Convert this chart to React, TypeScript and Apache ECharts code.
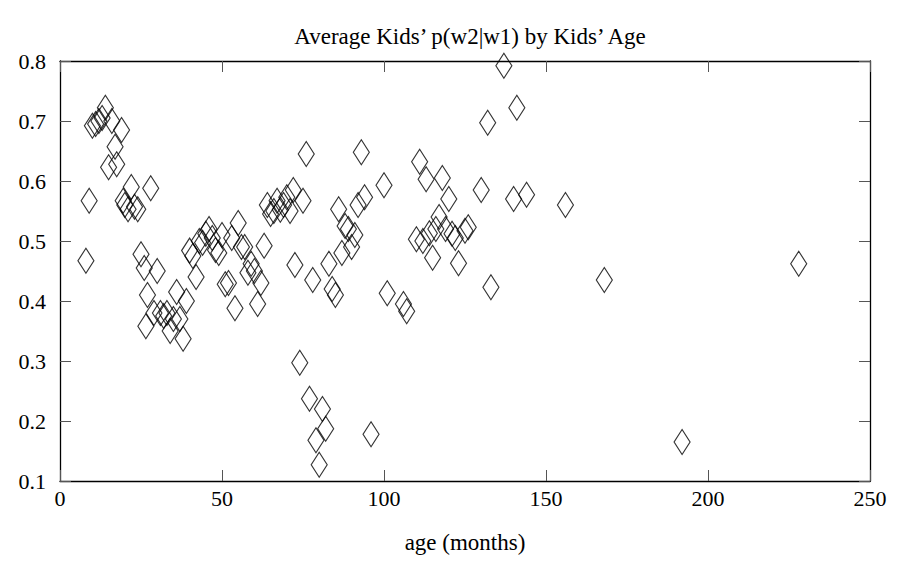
import React, { useEffect, useRef } from "react";
import * as echarts from "echarts";

const ages: number[] = [
  8, 9, 10, 11, 12, 13, 14, 15, 16, 17, 17.5, 19, 19.5, 20, 21, 22, 23, 24, 25, 26,
  26.5, 27, 28, 29, 30, 31, 32, 33, 34, 35, 36, 37, 38, 39, 40, 41, 42, 43, 44, 45,
  46, 47, 48, 49, 50, 51, 52, 53, 54, 55, 56, 57, 58, 59, 60, 61, 62, 63, 64, 65,
  66, 67, 68, 69, 70, 71, 72, 72.5, 74, 75, 76, 77, 78, 79, 80, 81, 82, 83, 84, 85,
  86, 87, 88, 89, 90, 91, 92, 93, 94, 96, 100, 101, 106, 107, 110, 111, 112, 113, 114, 115,
  116, 117, 118, 119, 120, 121, 122, 123, 125, 126, 130, 132, 133, 137, 140, 141, 144, 156, 168, 192,
  228,
];
const probs: number[] = [
  0.467, 0.567, 0.692, 0.695, 0.7, 0.705, 0.722, 0.623, 0.7, 0.657, 0.628, 0.685, 0.567, 0.56, 0.553, 0.59, 0.557, 0.553, 0.478, 0.455,
  0.358, 0.41, 0.588, 0.38, 0.45, 0.38, 0.375, 0.38, 0.35, 0.37, 0.415, 0.37, 0.337, 0.4, 0.484, 0.475, 0.44, 0.5, 0.497, 0.512,
  0.52, 0.505, 0.485, 0.48, 0.51, 0.428, 0.43, 0.505, 0.388, 0.53, 0.49, 0.49, 0.447, 0.462, 0.45, 0.395, 0.43, 0.492, 0.56, 0.545,
  0.55, 0.567, 0.552, 0.56, 0.573, 0.55, 0.585, 0.46, 0.297, 0.567, 0.645, 0.237, 0.435, 0.168, 0.127, 0.22, 0.187, 0.462, 0.42, 0.41,
  0.553, 0.48, 0.525, 0.52, 0.49, 0.51, 0.56, 0.648, 0.573, 0.178, 0.593, 0.413, 0.395, 0.383, 0.503, 0.632, 0.5, 0.603, 0.513, 0.472,
  0.52, 0.54, 0.605, 0.52, 0.57, 0.512, 0.505, 0.463, 0.517, 0.523, 0.585, 0.697, 0.423, 0.792, 0.57, 0.722, 0.577, 0.56, 0.435, 0.165,
  0.462,
];

const xTicks = { min: 0, max: 250, interval: 50 };
const yTicks = { min: 0.1, max: 0.8, interval: 0.1 };

export default function App() {
  const ref = useRef<HTMLDivElement>(null);
  useEffect(() => {
    if (!ref.current) return;
    const chart = echarts.init(ref.current, null, { renderer: "svg" });
    const font = "'Liberation Serif', 'DejaVu Serif', serif";
    const data = ages.map((a, i) => [a, probs[i]]);
    const lineStyle = { color: "#000", width: 1.3 };
    const tickStyle = { show: true, inside: true, length: 11, lineStyle: { color: "#555", width: 1 } };
    chart.setOption({
      animation: false,
      backgroundColor: "#fff",
      title: {
        text: "Average Kids\u2019 p(w2|w1) by Kids\u2019 Age",
        left: 465,
        textAlign: "center",
        top: 20,
        textStyle: { fontFamily: font, fontSize: 23, fontWeight: "normal", color: "#000" },
      },
      grid: { left: 60, right: 37, top: 61, bottom: 84 },
      xAxis: [
        {
          type: "value",
          min: xTicks.min,
          max: xTicks.max,
          interval: xTicks.interval,
          position: "bottom",
          name: "age (months)",
          nameLocation: "middle",
          nameGap: 50,
          nameTextStyle: { fontFamily: font, fontSize: 23, color: "#000" },
          axisLine: { show: true, onZero: false, lineStyle },
          axisTick: tickStyle,
          axisLabel: { fontFamily: font, fontSize: 22, color: "#000", margin: 6 },
          splitLine: { show: false },
        },
        {
          type: "value",
          min: xTicks.min,
          max: xTicks.max,
          interval: xTicks.interval,
          position: "top",
          axisLine: { show: true, onZero: false, lineStyle },
          axisTick: tickStyle,
          axisLabel: { show: false },
          splitLine: { show: false },
        },
      ],
      yAxis: [
        {
          type: "value",
          min: yTicks.min,
          max: yTicks.max,
          interval: yTicks.interval,
          position: "left",
          axisLine: { show: true, onZero: false, lineStyle },
          axisTick: tickStyle,
          axisLabel: {
            fontFamily: font,
            fontSize: 22,
            color: "#000",
            margin: 14,
            formatter: (v: number) => v.toFixed(1),
          },
          splitLine: { show: false },
        },
        {
          type: "value",
          min: yTicks.min,
          max: yTicks.max,
          interval: yTicks.interval,
          position: "right",
          axisLine: { show: true, onZero: false, lineStyle },
          axisTick: tickStyle,
          axisLabel: { show: false },
          splitLine: { show: false },
        },
      ],
      series: [
        {
          type: "scatter",
          xAxisIndex: 0,
          yAxisIndex: 0,
          data,
          symbol: "diamond",
          symbolSize: [16, 25],
          itemStyle: { color: "rgba(255,255,255,0)", borderColor: "#000", borderWidth: 1.2 },
          emphasis: { disabled: true },
        },
      ],
    });
    return () => chart.dispose();
  }, []);
  return <div ref={ref} style={{ width: 907, height: 565, position: "absolute", left: 0, top: 0 }} />;
}
